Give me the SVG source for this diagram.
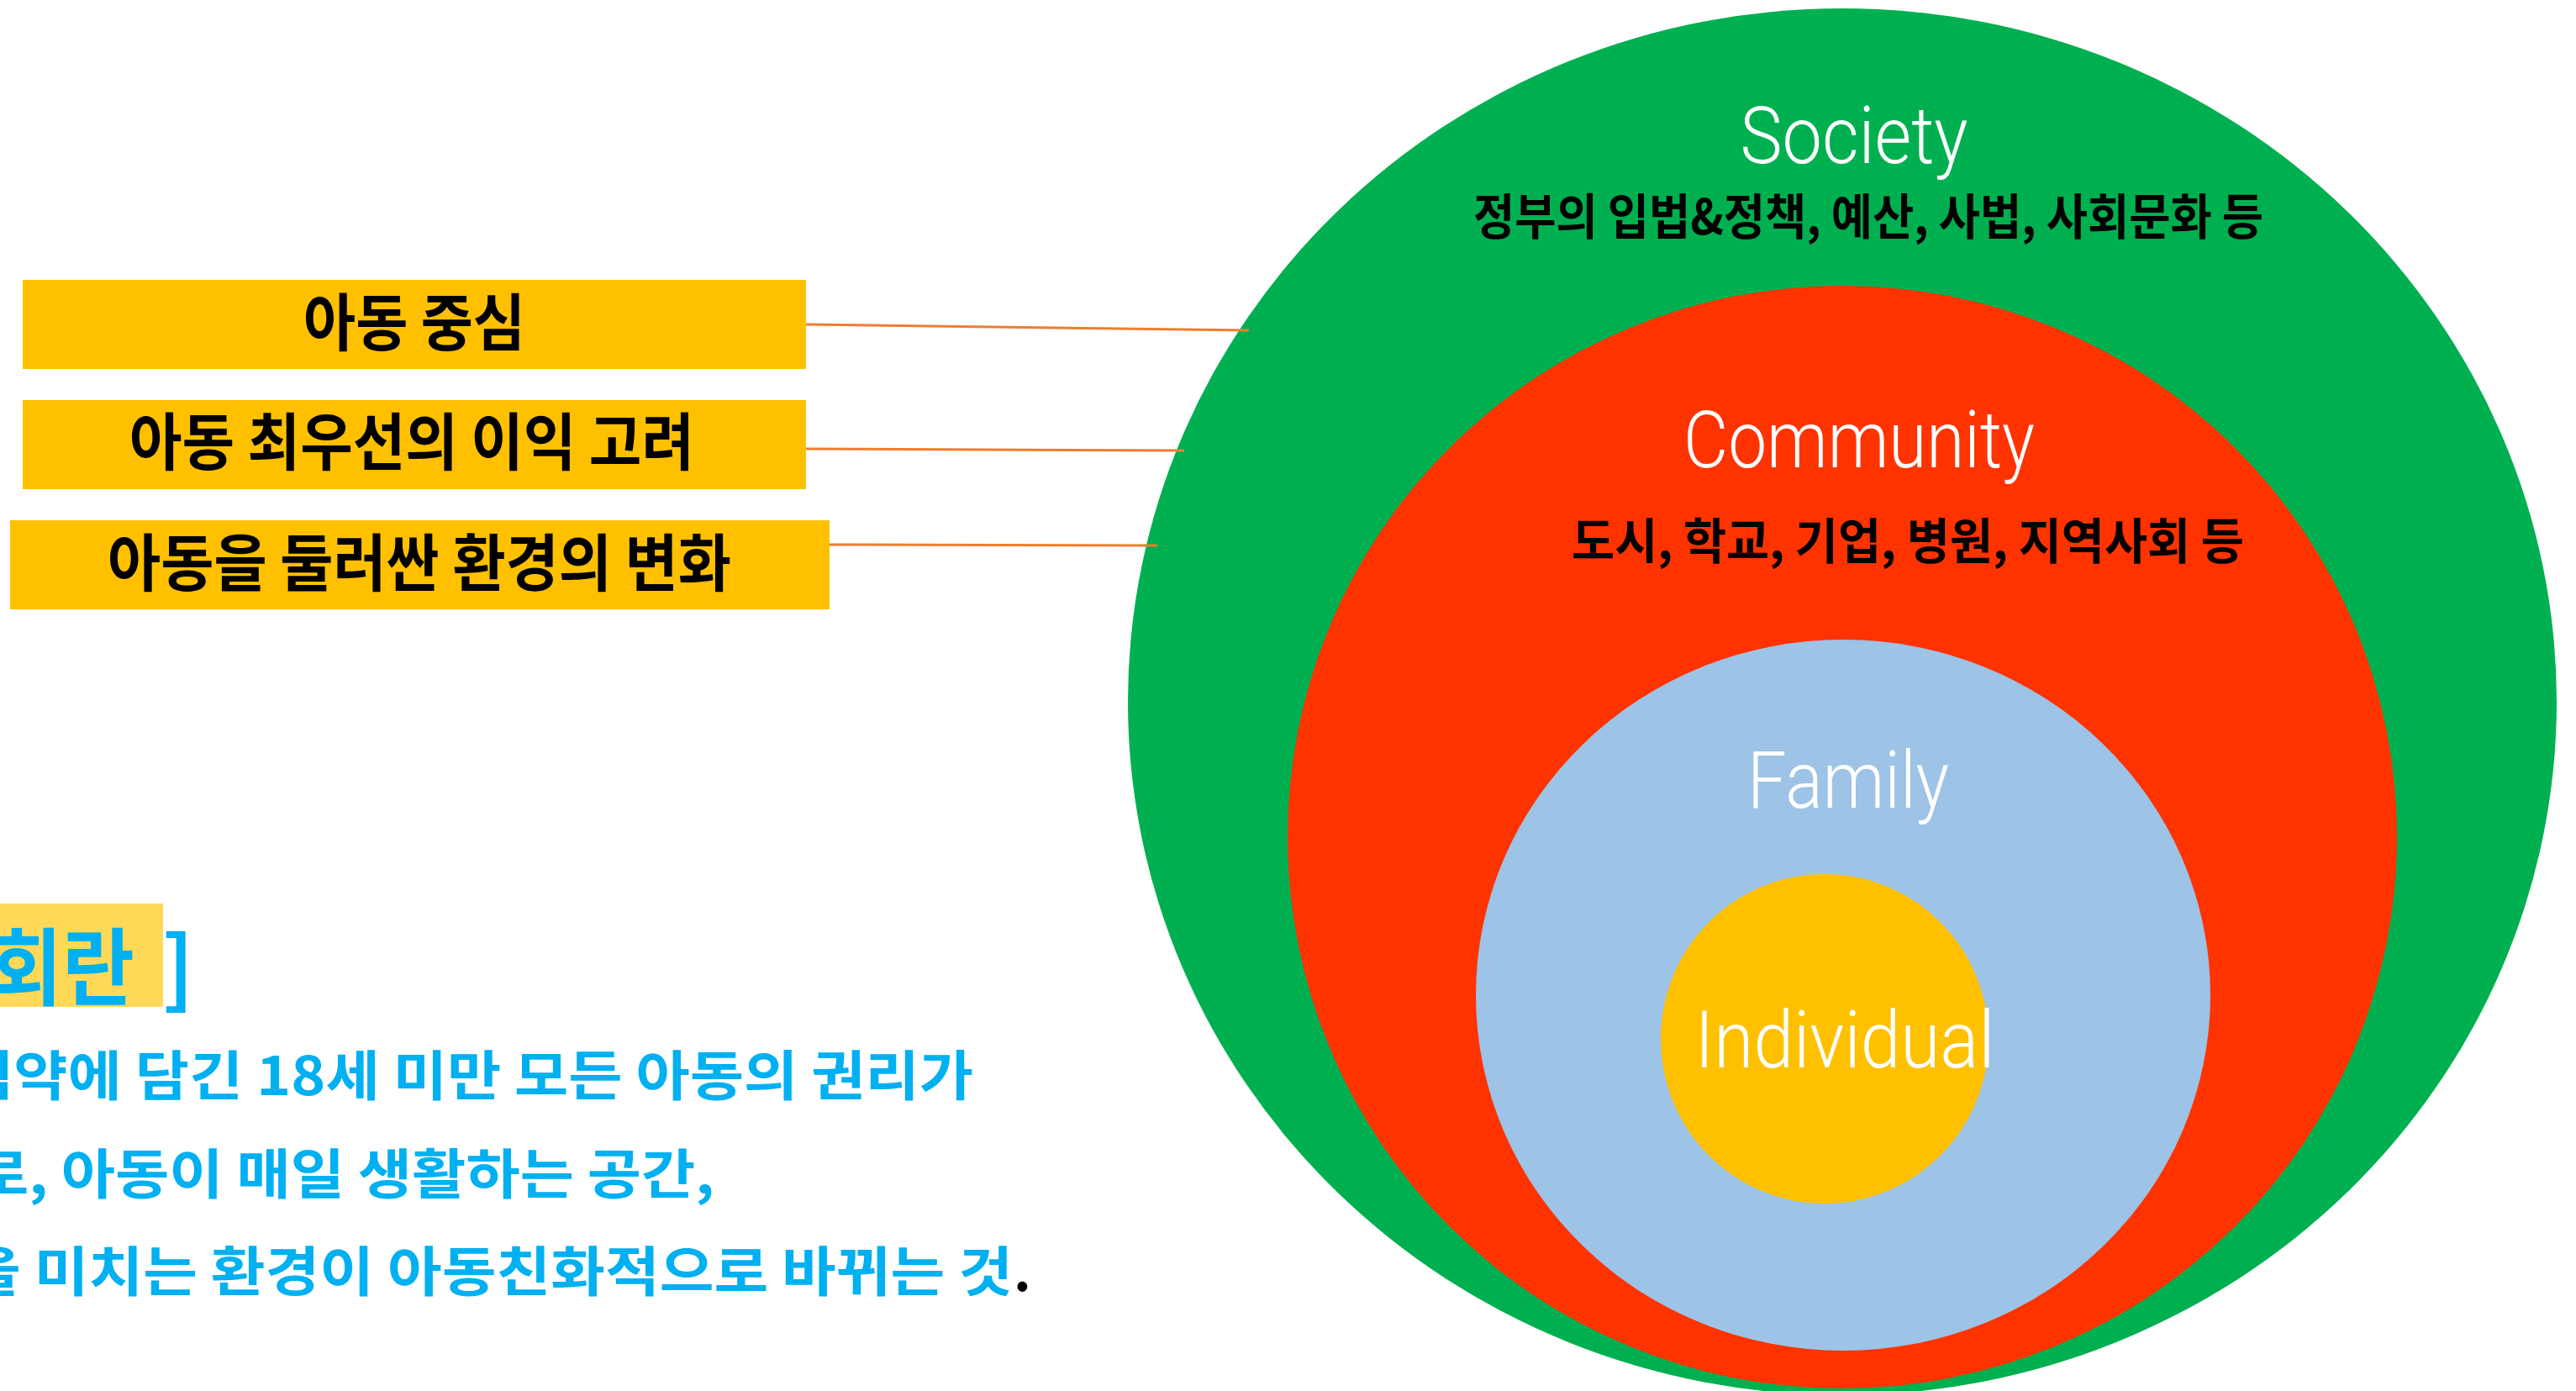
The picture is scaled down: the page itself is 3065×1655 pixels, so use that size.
<svg xmlns="http://www.w3.org/2000/svg" width="3065" height="1655" viewBox="0 0 3065 1655">
<style>
.box{fill:#FFC000}
.bt{font-family:"Noto Sans CJK KR","Noto Sans",sans-serif;font-weight:700;font-size:74px;fill:#000;text-anchor:middle}
.lat{font-family:Roboto,"Liberation Sans",sans-serif;font-weight:300;fill:#fff;text-anchor:middle;font-size:95px}
.kr{font-family:"Noto Sans CJK KR",sans-serif;font-weight:700;fill:#000;text-anchor:middle;font-size:58px}
.body{font-family:"Noto Sans CJK KR",sans-serif;font-weight:700;fill:#00B0F0;font-size:64px}
.conn{stroke:#ED7D31;stroke-width:3;fill:none}
</style>
<rect width="3065" height="1655" fill="#fff"/>
<g id="society">
<ellipse cx="2192" cy="835" rx="850" ry="825" fill="#00B050"/>
<text class="lat" x="2206" y="194" textLength="271" lengthAdjust="spacingAndGlyphs">Society</text>
<text class="kr" x="2223" y="279" textLength="940" lengthAdjust="spacingAndGlyphs">정부의 입법&amp;정책, 예산, 사법, 사회문화 등</text>
</g>
<g id="community">
<ellipse cx="2192" cy="996" rx="660" ry="656" fill="#FF3300"/>
<text class="lat" x="2212" y="556" textLength="418" lengthAdjust="spacingAndGlyphs">Community</text>
<text class="kr" x="2270" y="665" textLength="800" lengthAdjust="spacingAndGlyphs">도시, 학교, 기업, 병원, 지역사회 등</text>
</g>
<g id="family">
<ellipse cx="2193" cy="1184" rx="437" ry="423" fill="#9DC3E6"/>
<text class="lat" x="2199" y="961" textLength="240" lengthAdjust="spacingAndGlyphs">Family</text>
</g>
<g id="individual">
<ellipse cx="2171" cy="1236" rx="195" ry="196" fill="#FFC000"/>
<text class="lat" x="2195" y="1270" textLength="357" lengthAdjust="spacingAndGlyphs">Individual</text>
</g>
<g id="connectors">
<line class="conn" x1="959" y1="386" x2="1486" y2="393"/>
<line class="conn" x1="959" y1="534" x2="1409" y2="536"/>
<line class="conn" x1="987" y1="648" x2="1377" y2="649"/>
</g>
<g id="box1">
<rect class="box" x="27" y="333" width="932" height="106"/>
<text class="bt" x="493" y="411" textLength="264" lengthAdjust="spacingAndGlyphs">아동 중심</text>
</g>
<g id="box2">
<rect class="box" x="27" y="476" width="932" height="106"/>
<text class="bt" x="490" y="553" textLength="672" lengthAdjust="spacingAndGlyphs">아동 최우선의 이익 고려</text>
</g>
<g id="box3">
<rect class="box" x="12" y="619" width="975" height="106"/>
<text class="bt" x="499" y="697" textLength="742" lengthAdjust="spacingAndGlyphs">아동을 둘러싼 환경의 변화</text>
</g>
<g id="definition">
<rect x="0" y="1075" width="194" height="123" fill="#FFD957"/>
<text x="-12" y="1188" font-family="Noto Sans CJK KR,sans-serif" font-weight="700" font-size="100" fill="#00B0F0" textLength="172" lengthAdjust="spacingAndGlyphs">회란</text>
<text x="193" y="1188" font-family="Noto Sans CJK KR,sans-serif" font-weight="700" font-size="100" fill="#00B0F0">]</text>
<text class="body" x="-48" y="1303" textLength="1206" lengthAdjust="spacingAndGlyphs">협약에 담긴 18세 미만 모든 아동의 권리가</text>
<text class="body" x="-30" y="1420" textLength="880" lengthAdjust="spacingAndGlyphs">로, 아동이 매일 생활하는 공간,</text>
<text class="body" x="-40" y="1536" textLength="1245" lengthAdjust="spacingAndGlyphs">을 미치는 환경이 아동친화적으로 바뀌는 것</text>
<text class="body" x="1206" y="1536" style="fill:#000">.</text>
</g>
</svg>
